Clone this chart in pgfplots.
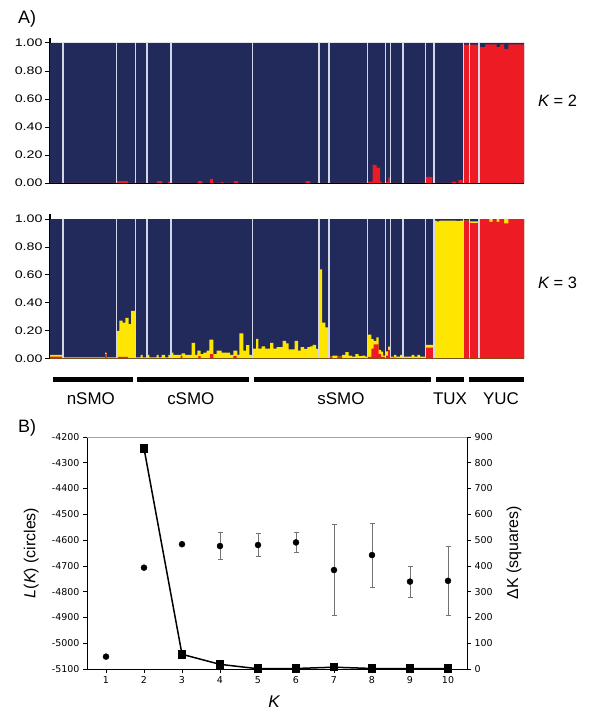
\documentclass[border=0pt]{standalone}
\usepackage{fontspec}
\setmainfont{Liberation Sans}
\newfontfamily\dejavu{DejaVu Sans}
\usepackage{pgfplots}
\pgfplotsset{compat=1.18}
\pgfplotsset{/pgf/number format/assume math mode=true}

\definecolor{navy}{RGB}{33,42,90}
\definecolor{sred}{RGB}{237,28,36}
\definecolor{syel}{RGB}{255,230,0}
\definecolor{sepc}{RGB}{210,214,230}

% common look of the two STRUCTURE panels
\pgfplotsset{strplot/.style={
    scale only axis, width=474bp,
    xmin=0, xmax=474, ymin=0, ymax=1.035,
    axis x line*=bottom, axis y line*=left,
    axis line style={line width=1.1bp},
    xtick=\empty, ytick={0,0.2,0.4,0.6,0.8,1},
    tick align=outside, major tick length=5bp,
    tick style={black, line width=0.8bp},
    yticklabel style={font=\fontsize{11}{11}\selectfont, xshift=1bp},
    yticklabel={\scalebox{1.3}[1]{\pgfmathprintnumber[fixed,fixed zerofill,precision=2]{\tick}}},
}}

\begin{document}
\begin{tikzpicture}
\path[use as bounding box] (0,0) rectangle (600bp,717bp);

% ---------- K = 2 ----------
\begin{axis}[strplot, height=145bp, at={(50bp,534bp)}, anchor=south west]
  \addplot[fill=navy, draw=none, const plot] coordinates {(0,1) (474,1)} \closedcycle;
  \addplot[fill=sred, draw=none, const plot] coordinates {
    (0,0) (67,0.014) (78,0) (107,0.014) (112,0) (118,0.01) (120,0) (148,0.014) (152,0)
    (160,0.03) (163,0) (171,0.008) (173,0) (184,0.014) (188,0) (255.7,0.014) (260,0)
    (317.3,0.01) (322.7,0.13) (326.7,0.11) (330,0.01) (331.7,0) (336,0.01) (338.3,0.04)
    (340.7,0) (376,0.043) (382.3,0) (401.7,0.01) (406,0) (408.3,0.02) (412.7,0)
    (413.3,0.988) (430,0.97) (435,0.99) (446.7,0.97) (450,0.99) (454,0.957) (458.3,0.99) (474,0.99)
  } \closedcycle;
  \addplot[sepc, line width=1.2bp, ycomb, mark=none] coordinates {
    (13,1) (66.7,1) (85.5,1) (97,1) (121,1) (202.7,1) (269,1) (279,1) (317.3,1)
    (335.7,1) (340.7,1) (353,1) (375.7,1) (384,1) (413.5,1) (419.5,1) (429,1)
  };
\end{axis}

% ---------- K = 3 ----------
\begin{axis}[strplot, height=144bp, at={(50bp,358.7bp)}, anchor=south west]
  \addplot[fill=navy, draw=none, const plot] coordinates {(0,1) (474,1)} \closedcycle;
  % red + yellow (cumulative)
  \addplot[fill=syel, draw=none, const plot] coordinates {
    (0,0.024) (13.3,0.006) (55,0.04) (56.7,0.006) (66.7,0.197) (69.3,0.27) (72.7,0.257)
    (75.3,0.29) (78.7,0.245) (81,0.34) (85.3,0.006) (90.7,0.025) (92.7,0.006) (97.3,0.025)
    (99.3,0.006) (106.7,0.025) (108.7,0.006) (111.7,0.025) (115,0.006) (118.3,0.025)
    (121,0.04) (123.3,0.025) (131.7,0.035) (135,0.025) (141.7,0.11) (145,0.025)
    (147.3,0.055) (150.7,0.03) (153.3,0.04) (156.7,0.055) (159.3,0.135) (163.3,0.03)
    (166.7,0.055) (171.7,0.04) (180,0.025) (183.3,0.055) (187.3,0.025) (189.3,0.18)
    (193.3,0.055) (196,0.095) (199.3,0.025) (202.7,0.07) (206,0.14) (208.3,0.07)
    (211.7,0.085) (215,0.07) (220,0.11) (223.3,0.07) (226.7,0.08) (232.7,0.125)
    (236,0.108) (238.7,0.065) (244.7,0.125) (248,0.055) (250.7,0.08) (254,0.067)
    (257.3,0.08) (260,0.086) (262.7,0.096) (266,0.067) (269,0.64) (272,0.257)
    (275.3,0.223) (279,0.012) (282.3,0.02) (287.3,0.012) (292,0.025) (295.3,0.045)
    (298.7,0.02) (302,0.012) (305.3,0.03) (308.7,0.015) (312,0.02) (315.3,0.012)
    (317.3,0.17) (321.3,0.137) (323.7,0.125) (326.3,0.15) (328.7,0.06) (331,0.048)
    (333,0.02) (335.7,0.05) (338,0.084) (340.7,0.012) (344,0.024) (346.3,0.012)
    (350,0.024) (353,0.012) (361.7,0.024) (364.3,0.012) (367.3,0.024) (370,0.012)
    (375.7,0.096) (384,0.99) (386.7,0.985) (389.3,0.99) (406,0.988) (410,0.99)
    (414,0.99) (420,0.985) (429,1) (474,1)
  } \closedcycle;
  \addplot[fill=sred, draw=none, const plot] coordinates {
    (0,0.012) (13.3,0) (55,0.03) (56.7,0) (68,0.01) (78,0) (130.7,0.02) (132.3,0)
    (148.3,0.015) (150.7,0) (160,0.03) (163.3,0) (183.3,0.015) (186.7,0) (279,0.012)
    (282.3,0) (287.3,0.012) (292,0) (317.3,0.01) (321.3,0.07) (323.7,0.10) (326.3,0.10)
    (328.7,0.03) (331,0.01) (335.7,0.02) (338,0.06) (340.7,0.005) (346.3,0)
    (375.7,0.076) (384,0) (414,0.99) (420,0.971) (429,1) (439.3,0.98) (442.7,1)
    (446.7,0.98) (449.3,1) (454,0.97) (458.3,1) (474,1)
  } \closedcycle;
  \addplot[sepc, line width=1.2bp, ycomb, mark=none] coordinates {
    (13,1) (66.7,1) (85.5,1) (97,1) (121,1) (202.7,1) (269,1) (279,1) (317.3,1)
    (335.7,1) (340.7,1) (353,1) (375.7,1) (384,1) (413.5,1) (419.5,1) (429,1)
  };
\end{axis}

% ---------- B) L(K) ----------
\begin{axis}[
    scale only axis, width=380bp, height=232bp,
    at={(87bp,48bp)}, anchor=south west,
    xmin=0.5, xmax=10.5, ymin=-5100, ymax=-4200,
    xtick={1,2,3,4,5,6,7,8,9,10},
    ytick={-5100,-5000,-4900,-4800,-4700,-4600,-4500,-4400,-4300,-4200},
    axis x line*=bottom, axis y line*=left,
    axis line style={line width=0.8bp},
    tick align=outside, major tick length=4bp,
    tick style={black, line width=0.6bp},
    tick label style={font=\dejavu\fontsize{9.5}{9.5}\selectfont},
    /pgf/number format/1000 sep={},
    xlabel={\itshape K},
    xlabel style={at={(axis description cs:0.492,-0.164)}, anchor=base, font=\fontsize{17}{17}\selectfont},
    ylabel={{\itshape L}({\itshape K}) (circles)},
    ylabel style={at={(axis description cs:-0.147,0.5)}, anchor=center, font=\fontsize{16}{16}\selectfont},
]
  \addplot[only marks, mark=none, error bars/.cd, y dir=both, y explicit,
      error bar style={black!55, line width=0.9bp},
      error mark options={rotate=90, mark size=2.5bp, black!55, line width=0.9bp}]
    coordinates {
      (4,-4623) +- (0,51)  (5,-4619) +- (0,44)  (6,-4609) +- (0,40)
      (7,-4716) +- (0,175) (8,-4658) +- (0,124) (9,-4761) +- (0,60)
      (10,-4758) +- (0,135)
    };
  \addplot[only marks, mark=*, mark size=3bp, black] coordinates {
    (1,-5052) (2,-4707) (3,-4616) (4,-4623) (5,-4619)
    (6,-4609) (7,-4716) (8,-4658) (9,-4761) (10,-4758)
  };
\end{axis}

% ---------- B) Delta K ----------
\begin{axis}[
    scale only axis, width=380bp, height=232bp,
    at={(87bp,48bp)}, anchor=south west,
    xmin=0.5, xmax=10.5, ymin=0, ymax=900,
    xtick=\empty, ytick={0,100,200,300,400,500,600,700,800,900},
    axis x line*=top, axis y line*=right,
    x axis line style={gray!70, line width=0.8bp},
    y axis line style={black, line width=0.8bp},
    tick align=outside, major tick length=4bp,
    tick style={black, line width=0.6bp},
    tick label style={font=\dejavu\fontsize{9.5}{9.5}\selectfont},
    ylabel={ΔK (squares)},
    ylabel style={at={(axis description cs:1.124,0.5)}, anchor=center, font=\fontsize{16}{16}\selectfont},
]
  \addplot[black, line width=1.5bp, mark=square*, mark size=3.5bp] coordinates {
    (2,856) (3,57) (4,18) (5,1) (6,2) (7,7) (8,2) (9,1) (10,1)
  };
\end{axis}

% population bars and names
\foreach \a/\b in {53.3/132.7, 137.3/249.3, 254.3/430.7, 435.7/464.3, 469.3/524.3}
  \draw[line width=4.3bp] (\a bp,337.5bp) -- (\b bp,337.5bp);
\begin{scope}[every node/.style={anchor=base, font=\fontsize{17}{17}\selectfont, inner sep=0}]
  \node at (90.8bp,312bp) {nSMO};
  \node at (190.8bp,312bp) {cSMO};
  \node at (341bp,312bp) {sSMO};
  \node at (450bp,312bp) {TUX};
  \node at (501bp,312bp) {YUC};
\end{scope}

% panel tags and K labels
\node[anchor=base west, inner sep=0, font=\fontsize{18}{18}\selectfont] at (18bp,693.7bp) {A)};
\node[anchor=base west, inner sep=0, font=\fontsize{18}{18}\selectfont] at (18bp,284bp) {B)};
\node[anchor=base west, inner sep=0, font=\fontsize{16.5}{16.5}\selectfont] at (538bp,610bp) {{\itshape K} = 2};
\node[anchor=base west, inner sep=0, font=\fontsize{16.5}{16.5}\selectfont] at (538bp,428bp) {{\itshape K} = 3};
\end{tikzpicture}
\end{document}
